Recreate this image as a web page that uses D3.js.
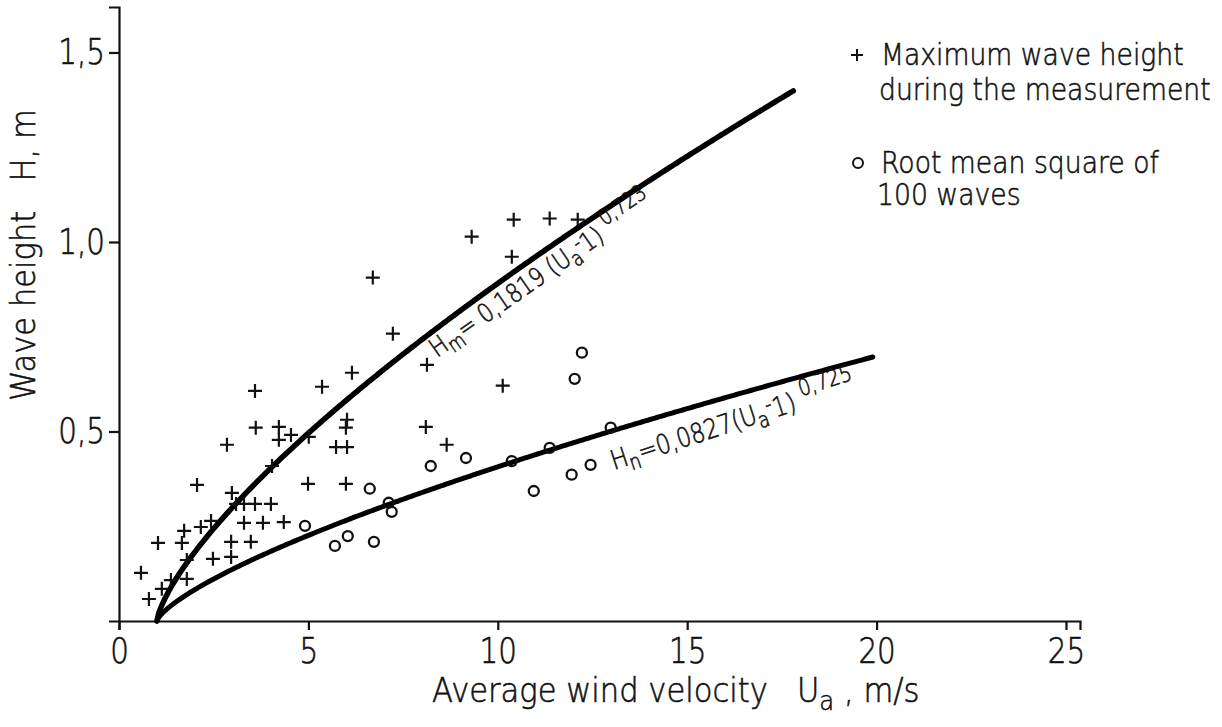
<!DOCTYPE html>
<html>
<head>
<meta charset="utf-8">
<script src="https://cdn.jsdelivr.net/npm/d3@7"></script>
<style>
  body { margin: 0; background: #fff; }
  svg { display: block; }
  text { font-family: "DejaVu Sans", "Noto Sans", sans-serif; font-weight: 300; fill: #111;
         stroke: #111; stroke-width: 0.6px; white-space: pre; }
</style>
</head>
<body>
<svg id="chart" width="1222" height="727"></svg>
<script>
// Maximum wave height during the measurement (crosses): wind velocity U_a [m/s], height [m]
const maxU = [9.31, 10.42, 11.37, 12.11, 10.37, 6.70, 7.23, 8.13, 10.13, 8.10, 8.65,
              6.15, 5.36, 3.59, 6.02, 5.99, 3.61, 4.22, 4.22, 4.54, 5.01, 2.85, 5.73,
              6.02, 4.04, 2.06, 4.99, 5.99, 2.98, 3.09, 3.30, 3.59, 4.01, 3.30, 3.80,
              4.35, 2.43, 2.16, 1.72, 1.66, 1.03, 2.96, 3.48, 1.79, 2.48, 2.96, 0.58,
              1.37, 1.79, 1.13, 0.79];
const maxH = [1.014, 1.059, 1.062, 1.059, 0.961, 0.906, 0.758, 0.676, 0.621, 0.512, 0.465,
              0.655, 0.618, 0.607, 0.531, 0.510, 0.510, 0.512, 0.478, 0.491, 0.486, 0.465, 0.459,
              0.459, 0.409, 0.359, 0.362, 0.362, 0.338, 0.309, 0.309, 0.309, 0.309, 0.259, 0.259,
              0.261, 0.264, 0.248, 0.238, 0.206, 0.206, 0.209, 0.209, 0.161, 0.164, 0.169, 0.127,
              0.108, 0.111, 0.085, 0.058];

// Root mean square of 100 waves (circles)
const rmsU = [6.62, 7.12, 7.20, 4.91, 6.04, 5.70, 6.73, 12.22, 12.03, 12.98, 11.37,
              10.37, 9.16, 8.23, 11.95, 12.45, 10.95];
const rmsH = [0.349, 0.312, 0.288, 0.251, 0.224, 0.198, 0.209, 0.708, 0.639, 0.510, 0.457,
              0.422, 0.430, 0.409, 0.386, 0.412, 0.343];

// Fitted curves H = a (U_a - 1)^b, drawn from U_a = 1 up to uEnd
const fitMax = [0.1819, 0.723, 17.8];
const fitRms = [0.0827, 0.725, 19.9];

const xTicks = [0, 5, 10, 15, 20, 25];
const yTicks = [0.5, 1.0, 1.5];
const yTickLabels = ["0,5", "1,0", "1,5"];

const legendLines = [["Maximum wave height", "during the measurement"],
                     ["Root mean square of", "100 waves"]];

const SX = 0.84; // horizontal condensing of the lettering

const svg = d3.select("#chart");
const x = d3.scaleLinear().domain([0, 25.37]).range([119, 1080]);
const y = d3.scaleLinear().domain([0, 1.62]).range([621, 7]);

// axes
const gx = svg.append("g").attr("transform", `translate(0,${y(0)})`)
  .call(d3.axisBottom(x).tickValues(xTicks).tickSize(9).tickPadding(8).tickFormat(d => d));
const gy = svg.append("g").attr("transform", `translate(${x(0)},0)`)
  .call(d3.axisLeft(y).tickValues(yTicks).tickSize(10).tickPadding(4)
        .tickFormat((d, i) => yTickLabels[i]));
[gx, gy].forEach(g => {
  g.select(".domain").attr("stroke", "#111").attr("stroke-width", 2.2);
  g.selectAll(".tick line").attr("stroke", "#111").attr("stroke-width", 2.2);
  g.selectAll(".tick text").attr("font-size", 35).attr("fill", "#111")
    .attr("font-family", "DejaVu Sans, sans-serif").attr("font-weight", 300);
});
gx.selectAll(".tick text").attr("transform", `scale(${SX},1)`);
gy.selectAll(".tick text").each(function () {
  const t = d3.select(this);
  t.attr("x", +t.attr("x") / SX).attr("transform", `scale(${SX},1)`);
});

// helper for condensed text placed at (px,py) with rotation
function label(parent, px, py, rot, size, sx = SX) {
  return parent.append("text")
    .attr("transform", `translate(${px},${py}) rotate(${rot}) scale(${sx},1)`)
    .attr("font-size", size);
}

// axis titles
const xt = label(svg, 432, 702, 0, 34, 0.9);
xt.append("tspan").text("Average wind velocity   U");
xt.append("tspan").attr("font-size", 27).attr("dy", 8).text("a");
xt.append("tspan").attr("dy", -8).text(" , m/s");

label(svg, 35, 255, -90, 34, 0.9).attr("text-anchor", "middle").text("Wave height   H, m");

// fitted curves
function curve(p) {
  const pts = [];
  for (let u = 1; u <= p[2] + 1e-9; u += 0.05) pts.push([u, p[0] * Math.pow(u - 1, p[1])]);
  return pts;
}
const line = d3.line().x(d => x(d[0])).y(d => y(d[1])).curve(d3.curveLinear);
svg.append("path").attr("d", line(curve(fitMax))).attr("fill", "none")
  .attr("stroke", "#000").attr("stroke-width", 5.5).attr("stroke-linecap", "round");
svg.append("path").attr("d", line(curve(fitRms))).attr("fill", "none")
  .attr("stroke", "#000").attr("stroke-width", 5).attr("stroke-linecap", "round");

// markers
const crossPath = "M-7,0H7M0,-7V7";
svg.append("g").selectAll("path").data(maxU).join("path")
  .attr("d", crossPath)
  .attr("transform", (d, i) => `translate(${x(d)},${y(maxH[i])})`)
  .attr("stroke", "#111").attr("stroke-width", 2.2).attr("fill", "none");
svg.append("g").selectAll("circle").data(rmsU).join("circle")
  .attr("cx", d => x(d)).attr("cy", (d, i) => y(rmsH[i])).attr("r", 5)
  .attr("stroke", "#111").attr("stroke-width", 2.3).attr("fill", "none");

// curve equations
function equation(px, py, rot, size, sub, coef, expo) {
  const t = label(svg, px, py, rot, size);
  t.append("tspan").text("H");
  t.append("tspan").attr("font-size", size * 0.8).attr("dy", size * 0.22).text(sub);
  t.append("tspan").attr("dy", -size * 0.22).text("=" + coef + "(U");
  t.append("tspan").attr("font-size", size * 0.8).attr("dy", size * 0.22).text("a");
  t.append("tspan").attr("font-size", size * 0.8).attr("dy", -size * 0.5).text("-");
  t.append("tspan").attr("dy", size * 0.28).text("1) ");
  t.append("tspan").attr("font-size", size * 0.85).attr("dy", -size * 0.45).text(expo);
}
equation(437, 358, -35, 26, "m", " 0,1819 ", "0,723");
equation(614, 470, -18, 27, "n", "0,0827", "0,725");

// legend
const lg = svg.append("g");
lg.append("path").attr("d", "M-6,0H6M0,-6V6").attr("transform", "translate(857,55)")
  .attr("stroke", "#111").attr("stroke-width", 2);
lg.append("circle").attr("cx", 858).attr("cy", 163).attr("r", 5)
  .attr("stroke", "#111").attr("stroke-width", 2).attr("fill", "none");
label(lg, 881, 65, 0, 31, 0.86).text(legendLines[0][0]);
label(lg, 879, 100, 0, 31, 0.86).text(legendLines[0][1]);
label(lg, 881, 173, 0, 31, 0.86).text(legendLines[1][0]);
label(lg, 877, 205, 0, 31, 0.86).text(legendLines[1][1]);
</script>
</body>
</html>
